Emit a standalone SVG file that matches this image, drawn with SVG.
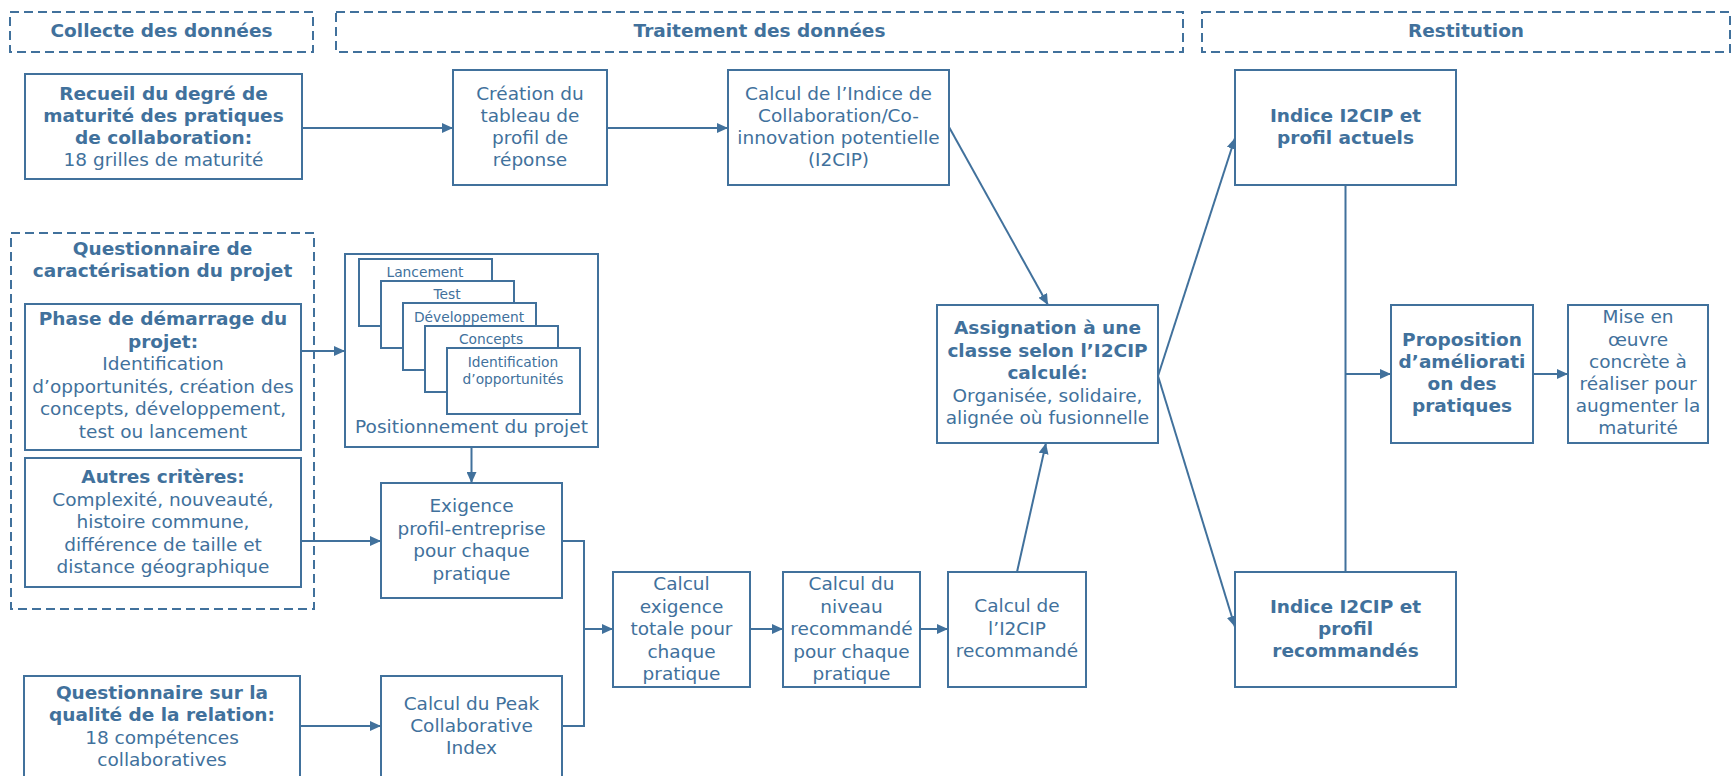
<svg xmlns="http://www.w3.org/2000/svg" width="1732" height="776" viewBox="0 0 1732 776">
<defs>
<style>
.box{fill:#fff;stroke:#41719C;stroke-width:2}
.dash{fill:none;stroke:#41719C;stroke-width:2;stroke-dasharray:9 5}
.t{font-family:"DejaVu Sans",Verdana,sans-serif;font-size:18.5px;fill:#41719C;text-anchor:middle}
.b{font-weight:bold}
.s{font-size:13.8px}
.c{stroke:#41719C;stroke-width:2;fill:none}
.a{marker-end:url(#ah)}
</style>
<marker id="ah" markerUnits="userSpaceOnUse" markerWidth="12" markerHeight="10" refX="11" refY="5" orient="auto">
<path d="M0,0 L11,5 L0,10 z" fill="#41719C"/>
</marker>
</defs>
<rect width="1732" height="776" fill="#fff"/>

<g id="hdr-collecte">
<rect class="dash" x="10" y="12" width="303" height="40"/>
<text class="t b" x="161.5" y="37">Collecte des données</text>
</g>
<g id="hdr-traitement">
<rect class="dash" x="336" y="12" width="847" height="40"/>
<text class="t b" x="759.5" y="37">Traitement des données</text>
</g>
<g id="hdr-restitution">
<rect class="dash" x="1202" y="12" width="528" height="40"/>
<text class="t b" x="1466" y="37">Restitution</text>
</g>

<g id="connectors">
<path class="c a" d="M302,128 H453"/>
<path class="c a" d="M607,128 H728"/>
<path class="c a" d="M949,127 L1048,305"/>
<path class="c a" d="M1017,572 L1046,443"/>
<path class="c a" d="M1158,376 L1235,138"/>
<path class="c a" d="M1158,376 L1235,627"/>
<path class="c" d="M1345.5,185 V572"/>
<path class="c a" d="M1345.5,374 H1391"/>
<path class="c a" d="M1533,374 H1568"/>
<path class="c a" d="M301,351 H345"/>
<path class="c a" d="M471.5,447 V483"/>
<path class="c a" d="M301,541 H381"/>
<path class="c" d="M562,541 H584 V726 H562"/>
<path class="c a" d="M584,629 H613"/>
<path class="c a" d="M300,726 H381"/>
<path class="c a" d="M750,629 H783"/>
<path class="c a" d="M920,629 H948"/>
</g>

<g id="recueil">
<rect class="box" x="25" y="74" width="277" height="105"/>
<text class="t b" x="163.5" y="100">Recueil du degré de</text>
<text class="t b" x="163.5" y="122">maturité des pratiques</text>
<text class="t b" x="163.5" y="144">de collaboration:</text>
<text class="t" x="163.5" y="166">18 grilles de maturité</text>
</g>

<g id="creation">
<rect class="box" x="453" y="70" width="154" height="115"/>
<text class="t" x="530" y="100">Création du</text>
<text class="t" x="530" y="122">tableau de</text>
<text class="t" x="530" y="144">profil de</text>
<text class="t" x="530" y="166">réponse</text>
</g>

<g id="calcul-indice">
<rect class="box" x="728" y="70" width="221" height="115"/>
<text class="t" x="838.5" y="100">Calcul de l’Indice de</text>
<text class="t" x="838.5" y="122">Collaboration/Co-</text>
<text class="t" x="838.5" y="144">innovation potentielle</text>
<text class="t" x="838.5" y="166">(I2CIP)</text>
</g>

<g id="actuels">
<rect class="box" x="1235" y="70" width="221" height="115"/>
<text class="t b" x="1345.5" y="122">Indice I2CIP et</text>
<text class="t b" x="1345.5" y="144">profil actuels</text>
</g>

<g id="assignation">
<rect class="box" x="937" y="305" width="221" height="138"/>
<text class="t b" x="1047.5" y="334">Assignation à une</text>
<text class="t b" x="1047.5" y="356.5">classe selon l’I2CIP</text>
<text class="t b" x="1047.5" y="379">calculé:</text>
<text class="t" x="1047.5" y="401.5">Organisée, solidaire,</text>
<text class="t" x="1047.5" y="424">alignée où fusionnelle</text>
</g>

<g id="proposition">
<rect class="box" x="1391" y="305" width="142" height="138"/>
<text class="t b" x="1462" y="346">Proposition</text>
<text class="t b" x="1462" y="368">d’améliorati</text>
<text class="t b" x="1462" y="390">on des</text>
<text class="t b" x="1462" y="412">pratiques</text>
</g>

<g id="mise-en-oeuvre">
<rect class="box" x="1568" y="305" width="140" height="138"/>
<text class="t" x="1638" y="323">Mise en</text>
<text class="t" x="1638" y="345.5">œuvre</text>
<text class="t" x="1638" y="368">concrète à</text>
<text class="t" x="1638" y="390">réaliser pour</text>
<text class="t" x="1638" y="412">augmenter la</text>
<text class="t" x="1638" y="434">maturité</text>
</g>

<g id="recommandes">
<rect class="box" x="1235" y="572" width="221" height="115"/>
<text class="t b" x="1345.5" y="613">Indice I2CIP et</text>
<text class="t b" x="1345.5" y="635">profil</text>
<text class="t b" x="1345.5" y="657">recommandés</text>
</g>

<g id="questionnaire-caracterisation">
<rect class="dash" x="11" y="233" width="303" height="376"/>
<text class="t b" x="162.5" y="255">Questionnaire de</text>
<text class="t b" x="162.5" y="277">caractérisation du projet</text>
</g>

<g id="phase">
<rect class="box" x="25" y="304" width="276" height="146"/>
<text class="t b" x="163" y="325">Phase de démarrage du</text>
<text class="t b" x="163" y="347.5">projet:</text>
<text class="t" x="163" y="370">Identification</text>
<text class="t" x="163" y="392.5">d’opportunités, création des</text>
<text class="t" x="163" y="415">concepts, développement,</text>
<text class="t" x="163" y="437.5">test ou lancement</text>
</g>

<g id="autres">
<rect class="box" x="25" y="458" width="276" height="129"/>
<text class="t b" x="163" y="483">Autres critères:</text>
<text class="t" x="163" y="506">Complexité, nouveauté,</text>
<text class="t" x="163" y="528">histoire commune,</text>
<text class="t" x="163" y="550.5">différence de taille et</text>
<text class="t" x="163" y="573">distance géographique</text>
</g>

<g id="positionnement">
<rect class="box" x="345" y="254" width="253" height="193"/>
<rect class="box" x="359" y="259" width="133" height="67"/>
<text class="t s" x="425" y="277">Lancement</text>
<rect class="box" x="381" y="281" width="133" height="67"/>
<text class="t s" x="447" y="299">Test</text>
<rect class="box" x="403" y="303" width="133" height="67"/>
<text class="t s" x="469" y="321.5">Développement</text>
<rect class="box" x="425" y="326" width="133" height="66"/>
<text class="t s" x="491" y="344">Concepts</text>
<rect class="box" x="447" y="348" width="133" height="66"/>
<text class="t s" x="513" y="366.5">Identification</text>
<text class="t s" x="513" y="383.5">d’opportunités</text>
<text class="t" x="471.5" y="433">Positionnement du projet</text>
</g>

<g id="exigence">
<rect class="box" x="381" y="483" width="181" height="115"/>
<text class="t" x="471.5" y="512">Exigence</text>
<text class="t" x="471.5" y="534.5">profil-entreprise</text>
<text class="t" x="471.5" y="557">pour chaque</text>
<text class="t" x="471.5" y="579.5">pratique</text>
</g>

<g id="calcul-exigence">
<rect class="box" x="613" y="572" width="137" height="115"/>
<text class="t" x="681.5" y="590">Calcul</text>
<text class="t" x="681.5" y="612.5">exigence</text>
<text class="t" x="681.5" y="635">totale pour</text>
<text class="t" x="681.5" y="657.5">chaque</text>
<text class="t" x="681.5" y="680">pratique</text>
</g>

<g id="calcul-niveau">
<rect class="box" x="783" y="572" width="137" height="115"/>
<text class="t" x="851.5" y="590">Calcul du</text>
<text class="t" x="851.5" y="612.5">niveau</text>
<text class="t" x="851.5" y="635">recommandé</text>
<text class="t" x="851.5" y="657.5">pour chaque</text>
<text class="t" x="851.5" y="680">pratique</text>
</g>

<g id="calcul-i2cip">
<rect class="box" x="948" y="572" width="138" height="115"/>
<text class="t" x="1017" y="612">Calcul de</text>
<text class="t" x="1017" y="634.5">l’I2CIP</text>
<text class="t" x="1017" y="657">recommandé</text>
</g>

<g id="questionnaire-relation">
<rect class="box" x="24" y="676" width="276" height="112"/>
<text class="t b" x="162" y="699">Questionnaire sur la</text>
<text class="t b" x="162" y="721">qualité de la relation:</text>
<text class="t" x="162" y="743.5">18 compétences</text>
<text class="t" x="162" y="766">collaboratives</text>
</g>

<g id="peak">
<rect class="box" x="381" y="676" width="181" height="112"/>
<text class="t" x="471.5" y="710">Calcul du Peak</text>
<text class="t" x="471.5" y="732">Collaborative</text>
<text class="t" x="471.5" y="754">Index</text>
</g>
</svg>
